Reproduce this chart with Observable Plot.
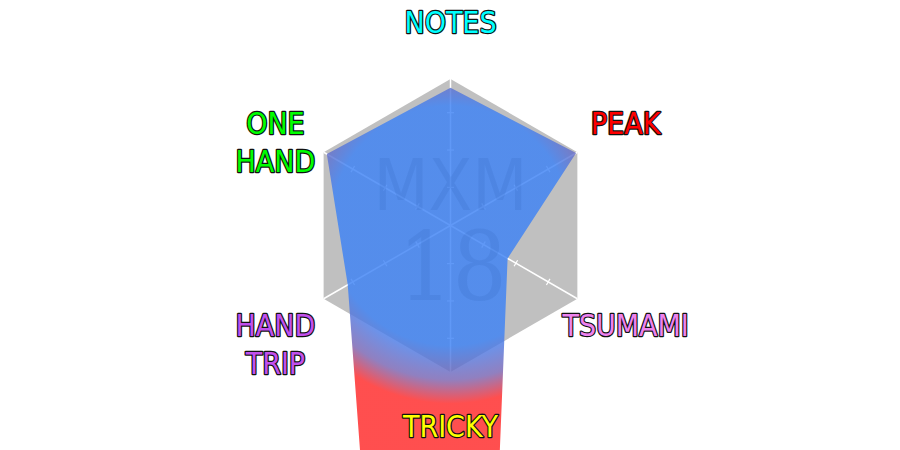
<!DOCTYPE html>
<html>
<head>
<meta charset="utf-8">
<script src="https://cdn.jsdelivr.net/npm/d3@7"></script>
<script src="https://cdn.jsdelivr.net/npm/@observablehq/plot@0.6"></script>
<style>
  body { margin: 0; background: #fff; overflow: hidden; }
</style>
</head>
<body>
<div id="chart"></div>
<script>
// radar axes, clockwise from the top (angles in degrees, 0 = right)
const axes = ["NOTES", "PEAK", "TSUMAMI", "TRICKY", "HAND TRIP", "ONE HAND"];
const angles = [90, 30, -30, -90, -150, 150];
const values = [0.94, 0.99, 0.45, 9.86, 0.81, 0.975];
const labelLines = [["NOTES"], ["PEAK"], ["TSUMAMI"], ["TRICKY"], ["HAND", "TRIP"], ["ONE", "HAND"]];
const labelColors = ["#00ffff", "#ff0000", "#ee82ee", "#ffff00", "#c150ee", "#00ff00"];
const tickSteps = [0.26, 0.515, 0.77];
const badge = ["MXM", "18"];

const W = 900, H = 450;
const R = 146.5;        // px per unit of the radial scale
const LABEL_R = 1.38;
const TICK_H = 0.024;

const rad = a => a * Math.PI / 180;
const px = (r, a) => r * Math.cos(rad(a));
const py = (r, a) => r * Math.sin(rad(a));

const ticks = angles.flatMap(a => tickSteps.map(t => ({a, t})));
const labelRows = labelLines.flatMap((lines, i) =>
  lines.map((t, j) => ({text: t, a: angles[i], line: j, color: labelColors[i]})));

const labelStyle = {
  x: d => px(LABEL_R, d.a),
  y: d => py(LABEL_R, d.a),
  text: "text",
  fill: "color",
  stroke: "#111",
  strokeWidth: 2.4,
  strokeLinejoin: "round",
  fontFamily: "DejaVu Sans Condensed",
  fontSize: 30,
  letterSpacing: -0.5,
  textAnchor: "middle",
  lineAnchor: "middle"
};

const chart = Plot.plot({
  width: W,
  height: H,
  margin: 0,
  x: {domain: [-W / 2 / R, W / 2 / R], axis: null},
  y: {domain: [-H / 2 / R, H / 2 / R], axis: null},
  color: {type: "identity"},
  marks: [
    // grey hexagon
    Plot.line(angles, {x: a => px(1, a), y: a => py(1, a), curve: "linear-closed",
      fill: "#c0c0c0", stroke: "none"}),
    // spokes
    Plot.link(angles, {x1: () => 0, y1: () => 0, x2: a => px(1, a), y2: a => py(1, a),
      stroke: "white", strokeWidth: 1.5}),
    // little ticks across the spokes
    Plot.link(ticks, {
      x1: d => px(d.t, d.a) + TICK_H * Math.sin(rad(d.a)),
      y1: d => py(d.t, d.a) - TICK_H * Math.cos(rad(d.a)),
      x2: d => px(d.t, d.a) - TICK_H * Math.sin(rad(d.a)),
      y2: d => py(d.t, d.a) + TICK_H * Math.cos(rad(d.a)),
      stroke: "white", strokeWidth: 1.2}),
    // the chart's values
    Plot.line(values, {x: (v, i) => px(v, angles[i]), y: (v, i) => py(v, angles[i]),
      curve: "linear-closed", fill: "url(#radarGrad)", fillOpacity: 0.82, stroke: "none", clip: true}),
    // watermark
    Plot.text([badge[0]], {x: () => 0, y: () => 0, text: d => d, dy: -38,
      fontFamily: "DejaVu Sans Condensed", fontSize: 71, fill: "#1f4fa8", fillOpacity: 0.12}),
    Plot.text([badge[1]], {x: () => 0, y: () => 0, text: d => d, dy: 44, dx: 2,
      fontFamily: "DejaVu Serif Condensed", fontSize: 95, letterSpacing: -6,
      fill: "#1f4fa8", fillOpacity: 0.12}),
    // axis names
    Plot.text(labelRows, {...labelStyle, filter: d => d.line === 0}),
    Plot.text(labelRows, {...labelStyle, filter: d => d.line === 1, dy: 38})
  ]
});

// radial gradient, blue in the middle turning red past the rim
const sx = chart.scale("x"), sy = chart.scale("y");
const cx = sx.apply(0), cy = sy.apply(0);
const grad = d3.select(chart).insert("defs", ":first-child")
  .append("radialGradient")
  .attr("id", "radarGrad")
  .attr("gradientUnits", "userSpaceOnUse")
  .attr("cx", cx).attr("cy", cy).attr("r", sx.apply(1.365) - cx);
[[0, "#3d82f5"], [0.6, "#3d82f5"], [0.77, "#7864b2"], [0.89, "#ff2828"], [1, "#ff2828"]]
  .forEach(([o, c]) => grad.append("stop").attr("offset", o).attr("stop-color", c));

document.getElementById("chart").append(chart);
</script>
</body>
</html>
